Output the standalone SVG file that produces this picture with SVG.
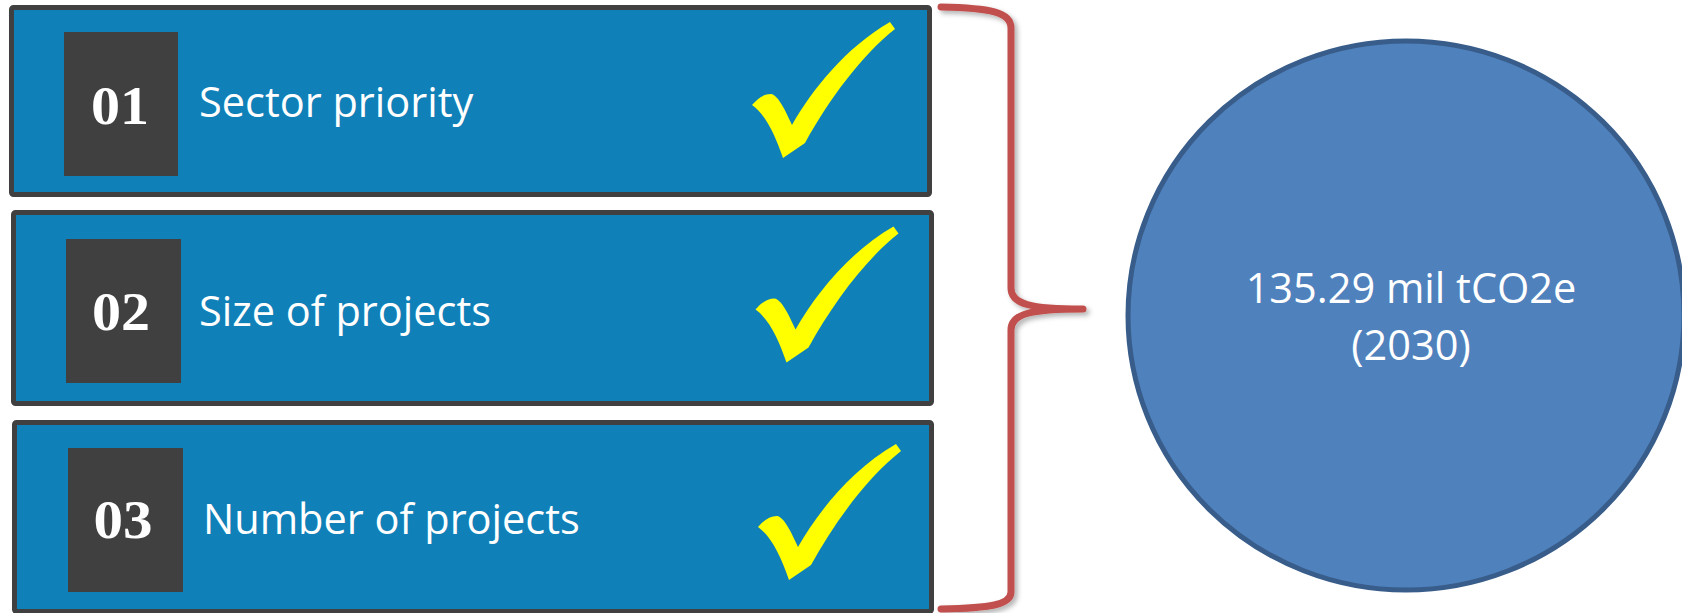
<svg xmlns="http://www.w3.org/2000/svg" width="1682" height="613" viewBox="0 0 1682 613">
  <defs>
    <style>
      .box { fill: #1080b8; stroke: #404040; stroke-width: 5; }
      .sq { fill: #404040; }
      .num { font-family: "Liberation Serif", "Times New Roman", serif; font-weight: bold; font-size: 55px; fill: #ffffff; text-anchor: middle; }
      .lbl { font-family: "Open Sans", "Noto Sans", sans-serif; font-size: 41.5px; fill: #ffffff; }
      .check { fill: #ffff00; }
      .brace { fill: none; stroke: #c0504d; stroke-width: 7; stroke-linecap: round; stroke-linejoin: round; }
      .circ { fill: #4f81bd; stroke: #385d8a; stroke-width: 5; }
      .ctext { font-family: "Open Sans", "Noto Sans", sans-serif; font-size: 41.5px; fill: #ffffff; text-anchor: middle; }
    </style>
    <path id="tick" d="M 752,105 C 758,98 764,94 771,94 C 778,95 785,110 792,125 C 812,90 845,48 890,22 L 895,29 C 862,55 830,98 805,143 L 783,158 C 775,135 766,115 752,105 Z"/>
    <filter id="shadow" x="-20%" y="-5%" width="140%" height="110%">
      <feDropShadow dx="3" dy="3" stdDeviation="2.5" flood-color="#000000" flood-opacity="0.3"/>
    </filter>
  </defs>

  <g id="node-01">
    <rect class="box" x="11.5" y="7.5" width="918" height="187" rx="2"/>
    <rect class="sq" x="64" y="32" width="114" height="144"/>
    <text class="num" x="120" y="124" textLength="58" lengthAdjust="spacingAndGlyphs">01</text>
    <text class="lbl" x="199" y="117">Sector priority</text>
    <use href="#tick" class="check"/>
  </g>

  <g id="node-02">
    <rect class="box" x="13.5" y="212.5" width="918" height="191" rx="2"/>
    <rect class="sq" x="66" y="239" width="115" height="144"/>
    <text class="num" x="121" y="330" textLength="58" lengthAdjust="spacingAndGlyphs">02</text>
    <text class="lbl" x="199" y="326">Size of projects</text>
    <use href="#tick" class="check" transform="translate(3.5,204.5)"/>
  </g>

  <g id="node-03">
    <rect class="box" x="14.5" y="422.5" width="917" height="189" rx="2"/>
    <rect class="sq" x="68" y="448" width="115" height="144"/>
    <text class="num" x="123" y="538" textLength="59" lengthAdjust="spacingAndGlyphs">03</text>
    <text class="lbl" x="203" y="534">Number of projects</text>
    <use href="#tick" class="check" transform="translate(6,422)"/>
  </g>

  <g id="connectors">
    <path class="brace" filter="url(#shadow)" d="M 941,7 C 990,8 1011,12 1011,28 L 1011,288 C 1011,304 1030,309 1083,309 C 1030,309 1011,314 1011,330 L 1011,592 C 1011,605 990,608 941,609"/>
  </g>

  <g id="node-result">
    <ellipse class="circ" cx="1406" cy="315.5" rx="278" ry="274.5"/>
    <text class="ctext" x="1411" y="303">135.29 mil tCO2e</text>
    <text class="ctext" x="1411" y="360">(2030)</text>
  </g>
</svg>
